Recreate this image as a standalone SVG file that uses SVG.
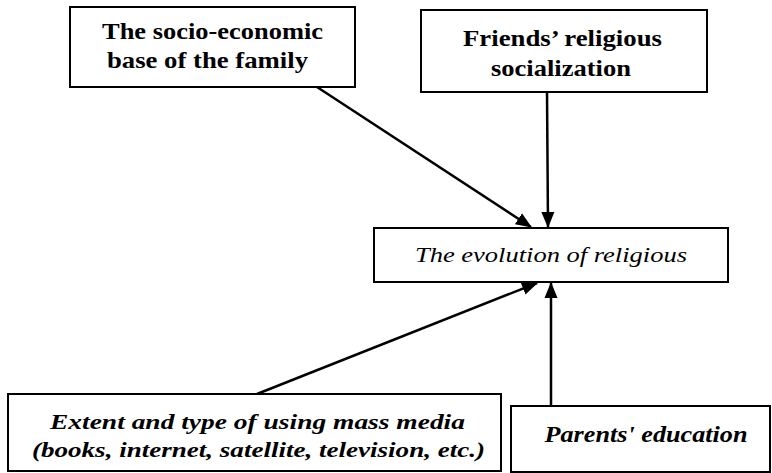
<svg xmlns="http://www.w3.org/2000/svg" width="772" height="473" viewBox="0 0 772 473">
<style>
.box{fill:#fff;stroke:#000;stroke-width:2}
.c{stroke:#000;stroke-width:2.5;fill:none;marker-end:url(#ah)}
</style>
<defs>
<marker id="ah" markerUnits="userSpaceOnUse" markerWidth="16" markerHeight="14" refX="15" refY="6.5" orient="auto" viewBox="0 0 16 13">
<path d="M0,0 L16,6.5 L0,13 z" fill="#000"/>
</marker>
</defs>
<rect width="772" height="473" fill="#fff"/>
<g id="connectors">
<line class="c" x1="317" y1="87" x2="531" y2="227"/>
<line class="c" x1="547" y1="92" x2="548" y2="227"/>
<line class="c" x1="257" y1="394" x2="537" y2="283"/>
<line class="c" x1="551" y1="406" x2="551" y2="283"/>
</g>
<g id="socio" font-family="Liberation Serif, serif" font-weight="bold" font-size="23" text-anchor="middle" fill="#000">
<rect class="box" x="70" y="7" width="285" height="80"/>
<text x="212.5" y="39" textLength="221" lengthAdjust="spacingAndGlyphs">The socio-economic</text>
<text x="207.5" y="68" textLength="201" lengthAdjust="spacingAndGlyphs">base of the family</text>
</g>
<g id="friends" font-family="Liberation Serif, serif" font-weight="bold" font-size="23" text-anchor="middle" fill="#000">
<rect class="box" x="421" y="10" width="286" height="82"/>
<text x="562.5" y="46" textLength="199" lengthAdjust="spacingAndGlyphs">Friends’ religious</text>
<text x="561" y="76" textLength="140" lengthAdjust="spacingAndGlyphs">socialization</text>
</g>
<g id="evolution" font-family="Liberation Serif, serif" font-style="italic" font-size="22" text-anchor="middle" fill="#000">
<rect class="box" x="374" y="228" width="354" height="54"/>
<text x="551" y="262" textLength="272" lengthAdjust="spacingAndGlyphs">The evolution of religious</text>
</g>
<g id="media" font-family="Liberation Serif, serif" font-weight="bold" font-style="italic" font-size="22" text-anchor="middle" fill="#000">
<rect class="box" x="8" y="394" width="493" height="77"/>
<text x="257.5" y="429" textLength="415" lengthAdjust="spacingAndGlyphs">Extent and type of using mass media</text>
<text x="258.5" y="457" textLength="453" lengthAdjust="spacingAndGlyphs">(books, internet, satellite, television, etc.)</text>
</g>
<g id="parents" font-family="Liberation Serif, serif" font-weight="bold" font-style="italic" font-size="24" text-anchor="middle" fill="#000">
<rect class="box" x="511" y="406" width="259" height="66"/>
<text x="646" y="442" textLength="203" lengthAdjust="spacingAndGlyphs">Parents' education</text>
</g>
</svg>
